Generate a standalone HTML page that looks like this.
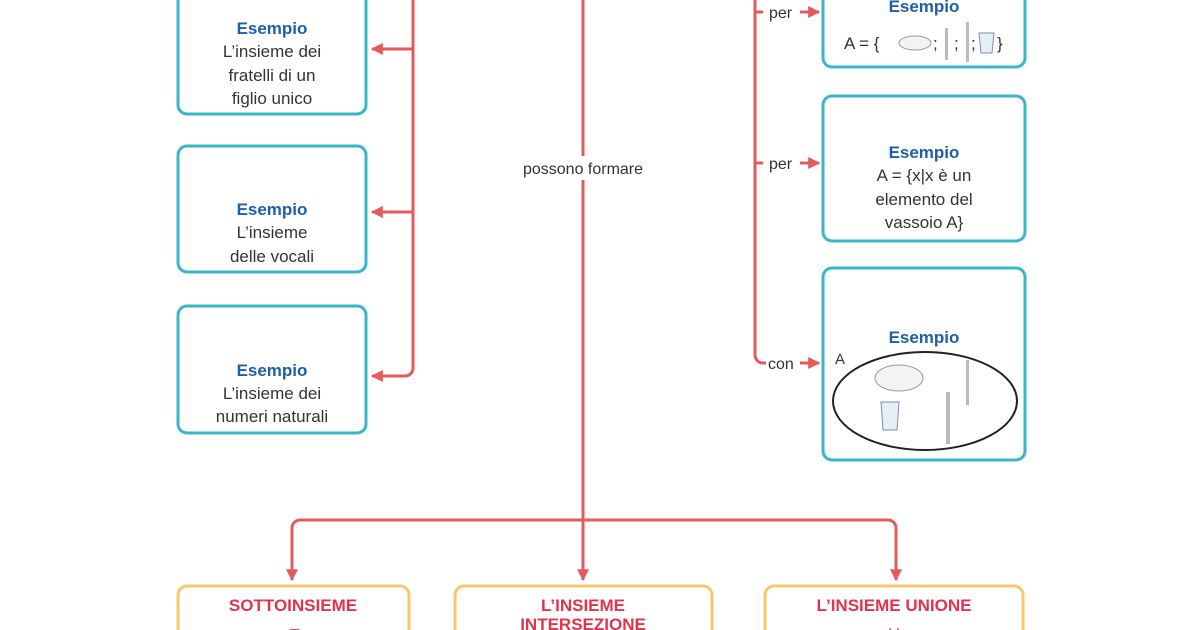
<!DOCTYPE html>
<html><head><meta charset="utf-8"><style>
html,body{margin:0;padding:0;background:#fff;width:1200px;height:630px;overflow:hidden}
svg{display:block}
svg text{font-family:"Liberation Sans",sans-serif}
</style></head><body>
<svg width="1200" height="630" viewBox="0 0 1200 630" xmlns="http://www.w3.org/2000/svg">
<defs><marker id="a" viewBox="0 0 10 10" refX="9" refY="5" markerWidth="4" markerHeight="4" orient="auto"><path d="M0,0L10,5L0,10z" fill="#e35b5b"/></marker></defs>
<g fill="none" stroke="#e35b5b" stroke-width="3">
<path d="M413 0V368a8 8 0 0 1-8 8H372" marker-end="url(#a)"/>
<path d="M413 49H372" marker-end="url(#a)"/>
<path d="M413 212H372" marker-end="url(#a)"/>
<path d="M583 0V580" marker-end="url(#a)"/>
<path d="M583 520H300a8 8 0 0 0-8 8V580" marker-end="url(#a)"/>
<path d="M583 520H888a8 8 0 0 1 8 8V580" marker-end="url(#a)"/>
<path d="M755 0V355a8 8 0 0 0 8 8h3"/>
<path d="M755 12h8M755 163h8"/>
<path d="M800 12h19" marker-end="url(#a)"/><path d="M800 163h19" marker-end="url(#a)"/><path d="M800 363h19" marker-end="url(#a)"/>
</g>
<rect x="510" y="156" width="150" height="24" fill="#fff"/>
<text x="583" y="174" font-size="16" text-anchor="middle" fill="#333">possono formare</text>
<g font-size="16" fill="#333"><text x="769" y="18">per</text><text x="769" y="169">per</text><text x="768" y="369">con</text></g>
<g fill="#fff" stroke="#3ab6c8" stroke-width="3">
<rect x="178" y="-20" width="188" height="134" rx="9"/>
<rect x="178" y="146" width="188" height="126" rx="9"/>
<rect x="178" y="306" width="188" height="127" rx="9"/>
<rect x="823" y="-20" width="202" height="87" rx="9"/>
<rect x="823" y="96" width="202" height="145" rx="9"/>
<rect x="823" y="268" width="202" height="192" rx="9"/>
</g>
<g fill="#fff" stroke="#f6c86a" stroke-width="3">
<rect x="178" y="586" width="231" height="80" rx="9"/>
<rect x="455" y="586" width="257" height="80" rx="9"/>
<rect x="765" y="586" width="258" height="80" rx="9"/>
</g>
<g font-size="17" text-anchor="middle">
<g fill="#1f5fa3" font-weight="bold">
<text x="272" y="34">Esempio</text><text x="272" y="215">Esempio</text><text x="272" y="376">Esempio</text>
<text x="924" y="12">Esempio</text><text x="924" y="158">Esempio</text><text x="924" y="343">Esempio</text>
</g>
<g fill="#333">
<text x="272" y="57">L’insieme dei</text><text x="272" y="81">fratelli di un</text><text x="272" y="104">figlio unico</text>
<text x="272" y="238">L’insieme</text><text x="272" y="262">delle vocali</text>
<text x="272" y="399">L’insieme dei</text><text x="272" y="422">numeri naturali</text>
<text x="924" y="181">A = {x|x è un</text><text x="924" y="205">elemento del</text><text x="924" y="228">vassoio A}</text>
</g>
<g fill="#e0344f" font-weight="bold">
<text x="293" y="611">SOTTOINSIEME</text><text x="583" y="611">L’INSIEME</text><text x="583" y="630">INTERSEZIONE</text><text x="894" y="611">L’INSIEME UNIONE</text>
</g>
<g fill="#e0344f" font-size="20"><text x="293" y="640">⊂</text><text x="894" y="640">∪</text></g>
</g>
<text x="844" y="49" font-size="17" fill="#333">A = {</text>
<ellipse cx="915" cy="43" rx="16" ry="7" fill="#f3f3f3" stroke="#999"/>
<text x="933" y="49" font-size="17" fill="#333">;</text>
<rect x="945" y="28" width="3" height="32" fill="#bbb"/>
<text x="954" y="49" font-size="17" fill="#333">;</text>
<rect x="966" y="22" width="3" height="40" fill="#bbb"/>
<text x="971" y="49" font-size="17" fill="#333">;</text>
<path d="M979 33h15l-2 20h-11z" fill="#e4f0f6" stroke="#88a"/>
<text x="997" y="49" font-size="17" fill="#333">}</text>
<text x="835" y="364" font-size="15" fill="#333">A</text>
<ellipse cx="925" cy="401" rx="92" ry="49" fill="none" stroke="#222" stroke-width="2"/>
<ellipse cx="899" cy="378" rx="24" ry="13" fill="#f3f3f3" stroke="#999"/>
<path d="M881 402h18l-2 28h-14z" fill="#e4f0f6" stroke="#88a"/>
<rect x="966" y="360" width="3" height="45" fill="#bbb"/>
<rect x="946" y="392" width="4" height="52" fill="#bbb"/>
</svg>
</body></html>
